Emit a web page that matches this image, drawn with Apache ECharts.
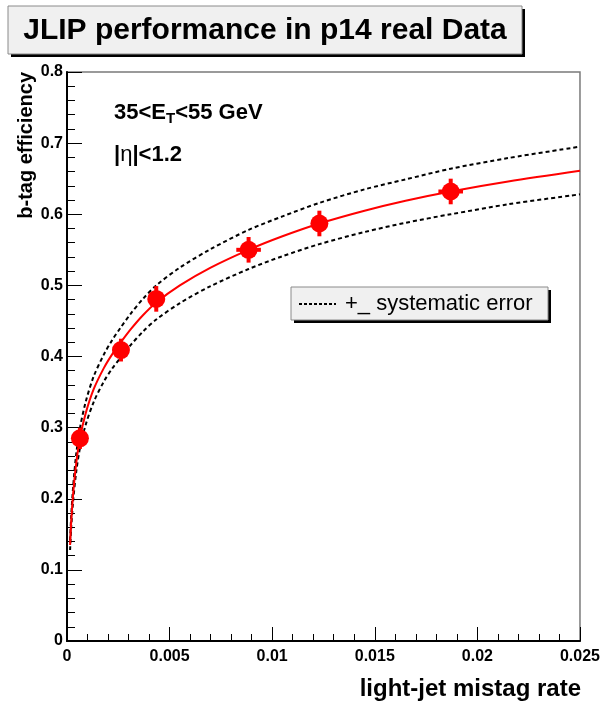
<!DOCTYPE html>
<html>
<head>
<meta charset="utf-8">
<script src="https://cdn.jsdelivr.net/npm/echarts@6/dist/echarts.min.js"></script>
<style>html,body{margin:0;padding:0;background:#fff}#c{width:603px;height:704px}</style>
</head>
<body>
<div id="c"></div>
<script>
// ---- data ----
const xTickLabels = ['0', '0.005', '0.01', '0.015', '0.02', '0.025'];
const yTickLabels = ['0', '0.1', '0.2', '0.3', '0.4', '0.5', '0.6', '0.7', '0.8'];

const pointX    = [0.00063, 0.00263, 0.00435, 0.00885, 0.0123, 0.0187];
const pointY    = [0.285, 0.409, 0.481, 0.550, 0.587, 0.632];
const pointXErr = [0.0001, 0.0002, 0.0003, 0.0006, 0.0004, 0.0006];
const pointYErr = [0.015, 0.016, 0.018, 0.018, 0.018, 0.018];

const curveX   = [0.00015, 0.0002, 0.0003, 0.00045, 0.00063, 0.0009, 0.0013, 0.0018, 0.0022, 0.0026, 0.0031, 0.0037, 0.00435, 0.0055, 0.007, 0.00885, 0.0105, 0.0123, 0.0145, 0.0165, 0.0187, 0.0215, 0.025];
const fitY     = [0.135, 0.165, 0.207, 0.250, 0.285, 0.319, 0.354, 0.384, 0.403, 0.419, 0.438, 0.458, 0.476, 0.500, 0.525, 0.550, 0.569, 0.587, 0.605, 0.619, 0.632, 0.646, 0.661];
const sysUpY   = [0.142, 0.173, 0.217, 0.263, 0.299, 0.335, 0.372, 0.403, 0.423, 0.440, 0.460, 0.481, 0.500, 0.525, 0.551, 0.578, 0.597, 0.616, 0.635, 0.649, 0.664, 0.679, 0.695];
const sysDownY = [0.128, 0.157, 0.197, 0.238, 0.271, 0.303, 0.336, 0.365, 0.383, 0.398, 0.416, 0.435, 0.452, 0.475, 0.499, 0.523, 0.541, 0.558, 0.575, 0.588, 0.600, 0.614, 0.628];

const titleText = 'JLIP performance in p14 real Data';
const legendText = '+_ systematic error';
const xTitle = 'light-jet mistag rate';
const yTitle = 'b-tag efficiency';

// ---- chart ----
const FONT = '"Liberation Sans", Arial, Helvetica, sans-serif';
const chart = echarts.init(document.getElementById('c'), null, {renderer: 'canvas'});

const pts = pointX.map((x, i) => [x, pointY[i], pointXErr[i], pointYErr[i]]);
const pair = (ys) => curveX.map((x, i) => [x, ys[i]]);

const option = {
  animation: false,
  backgroundColor: '#ffffff',
  grid: {left: 67, right: 22, top: 72, bottom: 63, show: true, borderColor: '#7a7a7a', borderWidth: 1.5, backgroundColor: 'transparent'},
  xAxis: {
    type: 'value', min: 0, max: 0.025, interval: 0.005,
    axisLine: {show: true, onZero: false, lineStyle: {color: '#000', width: 2}},
    axisTick: {show: true, inside: true, length: 14, lineStyle: {color: '#000', width: 1}},
    minorTick: {show: true, splitNumber: 5, length: 7, lineStyle: {color: '#000', width: 1}},
    splitLine: {show: false},
    axisLabel: {color: '#000', fontFamily: FONT, fontWeight: 'bold', fontSize: 16, margin: 8,
      formatter: (v) => xTickLabels[Math.round(v / 0.005)]}
  },
  yAxis: {
    type: 'value', min: 0, max: 0.8, interval: 0.1,
    axisLine: {show: true, onZero: false, lineStyle: {color: '#000', width: 2}},
    axisTick: {show: true, inside: true, length: 15, lineStyle: {color: '#000', width: 1}},
    minorTick: {show: true, splitNumber: 5, length: 8, lineStyle: {color: '#000', width: 1}},
    splitLine: {show: false},
    axisLabel: {color: '#000', fontFamily: FONT, fontWeight: 'bold', fontSize: 16, margin: 4,
      formatter: (v) => yTickLabels[Math.round(v / 0.1)]}
  },
  series: [
    {type: 'line', data: pair(sysUpY), showSymbol: false, smooth: 0.3, lineStyle: {color: '#000', width: 2, type: [4, 3]}, z: 2},
    {type: 'line', data: pair(sysDownY), showSymbol: false, smooth: 0.3, lineStyle: {color: '#000', width: 2, type: [4, 3]}, z: 2},
    {type: 'line', data: pair(fitY), showSymbol: false, smooth: 0.3, lineStyle: {color: '#ff0000', width: 2}, z: 3},
    {
      type: 'custom', z: 4,
      data: pts,
      renderItem: function (params, api) {
        const x = api.value(0), y = api.value(1), ex = api.value(2), ey = api.value(3);
        const a = api.coord([x, y - ey]), b = api.coord([x, y + ey]);
        const l = api.coord([x - ex, y]), r = api.coord([x + ex, y]);
        const st = {stroke: '#ff0000', lineWidth: 4};
        return {type: 'group', children: [
          {type: 'line', shape: {x1: a[0], y1: a[1], x2: b[0], y2: b[1]}, style: st},
          {type: 'line', shape: {x1: l[0], y1: l[1], x2: r[0], y2: r[1]}, style: st}
        ]};
      }
    },
    {type: 'scatter', data: pts.map(p => [p[0], p[1]]), symbol: 'circle', symbolSize: 18, itemStyle: {color: '#ff0000', opacity: 1}, z: 5}
  ],
  graphic: [
    // title box
    {type: 'rect', shape: {x: 11, y: 9, width: 514, height: 48}, style: {fill: '#000'}, z: 10},
    {type: 'rect', shape: {x: 8, y: 6, width: 514, height: 48}, style: {fill: '#f0f0f0', stroke: '#8a8a8a', lineWidth: 1}, z: 11},
    {type: 'text', x: 265, y: 31, style: {text: titleText, font: 'bold 30px ' + FONT, fill: '#000', align: 'center', verticalAlign: 'middle'}, z: 12},
    // legend box
    {type: 'rect', shape: {x: 294, y: 290, width: 257, height: 33}, style: {fill: '#000'}, z: 10},
    {type: 'rect', shape: {x: 291, y: 287, width: 257, height: 33}, style: {fill: '#f0f0f0', stroke: '#8a8a8a', lineWidth: 1}, z: 11},
    {type: 'line', shape: {x1: 299, y1: 304, x2: 336, y2: 304}, style: {stroke: '#000', lineWidth: 2, lineDash: [3, 2]}, z: 12},
    {type: 'text', x: 345, y: 304, style: {text: legendText, font: '22px ' + FONT, fill: '#000', align: 'left', verticalAlign: 'middle'}, z: 12},
    // annotations
    {type: 'text', x: 114, y: 113, z: 12, style: {
      text: '{a|35<E}{s|T}{a|<55 GeV}', verticalAlign: 'middle', align: 'left',
      rich: {a: {font: 'bold 22px ' + FONT, fill: '#000'}, s: {font: 'bold 15px ' + FONT, fill: '#000', padding: [12, 0, 0, 0]}}
    }},
    {type: 'text', x: 114, y: 155, z: 12, style: {
      text: '{a||}{e|η}{a||<1.2}', verticalAlign: 'middle', align: 'left',
      rich: {a: {font: 'bold 22px ' + FONT, fill: '#000'}, e: {font: '22px ' + FONT, fill: '#000'}}
    }},
    // axis titles
    {type: 'text', x: 581, y: 689, z: 12, style: {text: xTitle, font: 'bold 24px ' + FONT, fill: '#000', align: 'right', verticalAlign: 'middle'}},
    {type: 'text', x: 26, y: 72, rotation: Math.PI / 2, z: 12, style: {text: yTitle, font: 'bold 20px ' + FONT, fill: '#000', align: 'right', verticalAlign: 'middle'}}
  ]
};
chart.setOption(option);
</script>
</body>
</html>
